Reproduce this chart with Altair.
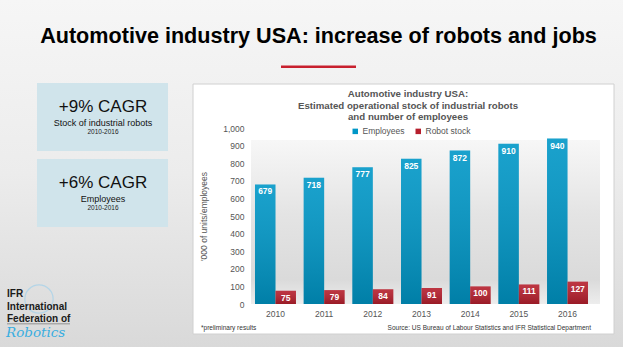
import altair as alt
import pandas as pd

years = ["2010", "2011", "2012", "2013", "2014", "2015", "2016"]
employees = [679, 718, 777, 825, 872, 910, 940]
robots = [75, 79, 84, 91, 100, 111, 127]
series = ["Employees", "Robot stock"]
y_ticks = list(range(0, 1001, 100))

FONT = "Liberation Sans"
OX, OY = 251, 128   # plot origin on the page
W, H = 341, 176

rows = []
for yr, e, r in zip(years, employees, robots):
    rows.append({"year": yr, "series": "Employees", "value": e})
    rows.append({"year": yr, "series": "Robot stock", "value": r})
df = pd.DataFrame(rows)

one = pd.DataFrame({"k": [0]})


def rect(x1, y1, x2, y2, **kw):
    return alt.Chart(one).mark_rect(**kw).encode(
        x=alt.value(x1 - OX), x2=alt.value(x2 - OX),
        y=alt.value(y1 - OY), y2=alt.value(y2 - OY))


def txt(s, x, y, size, weight="normal", color="#000", align="center", **kw):
    return alt.Chart(one).mark_text(
        text=s, font=FONT, fontSize=size, fontWeight=weight, color=color,
        align=align, baseline="middle", **kw).encode(
        x=alt.value(x - OX), y=alt.value(y - OY))


def grad(stops, vertical=True):
    return alt.Gradient(
        gradient="linear",
        stops=[alt.GradientStop(offset=o, color=c) for o, c in stops],
        x1=0, y1=0, x2=0 if vertical else 1, y2=1 if vertical else 0)


layers = []
# slide background
layers.append(rect(0, 0, 623, 347, color=grad([(0, "#f6f6f6"), (0.5, "#ececec"), (1, "#d9d9d9")])))
# title
layers.append(txt("Automotive industry USA: increase of robots and jobs", 318.5, 37, 21.6, "bold", "#000"))
layers.append(rect(281, 65.5, 356, 68, color="#c8202e"))
# left boxes
layers.append(rect(37, 83, 168, 151, color="#d0e4eb"))
layers.append(rect(37, 159, 168, 227, color="#d0e4eb"))
layers.append(txt("+9% CAGR", 103, 107, 17, color="#111"))
layers.append(txt("Stock of industrial robots", 103, 123, 9, color="#111"))
layers.append(txt("2010-2016", 103, 131.5, 6.5, color="#222"))
layers.append(txt("+6% CAGR", 103, 183, 17, color="#111"))
layers.append(txt("Employees", 103, 199, 9, color="#111"))
layers.append(txt("2010-2016", 103, 207.5, 6.5, color="#222"))
# IFR logo
layers.append(alt.Chart(one).mark_point(shape="circle", size=800, filled=False, color="#a9d3ea",
                                        strokeWidth=1.2, opacity=0.8).encode(
    x=alt.value(39 - OX), y=alt.value(299 - OY)))
layers.append(txt("IFR", 7, 293.5, 10, "bold", "#1a1a1a", align="left"))
layers.append(txt("International", 7, 307, 10, "bold", "#1a1a1a", align="left"))
layers.append(txt("Federation of", 7, 319, 10, "bold", "#1a1a1a", align="left"))
layers.append(rect(7, 323.5, 70, 324.3, color="#777"))
layers.append(alt.Chart(one).mark_text(text="Robotics", font="DejaVu Serif", fontSize=13.5,
                                       fontStyle="italic", color="#3aaee0", align="left",
                                       baseline="middle").encode(
    x=alt.value(6 - OX), y=alt.value(333 - OY)))
# chart panel
layers.append(rect(193, 84, 614, 334, color="#ffffff", stroke="#d0d0d0", strokeWidth=1))
layers.append(rect(OX, 140, 600, 304, color=grad([(0, "#f7f7f7"), (0.45, "#e4e4e4"),
                                                  (0.85, "#dadada"), (1, "#ededed")])))
layers.append(txt("Automotive industry USA:", 408, 94, 9.7, "bold", "#555"))
layers.append(txt("Estimated operational stock of industrial robots", 408, 105.5, 9.7, "bold", "#555"))
layers.append(txt("and number of employees", 408, 117, 9.7, "bold", "#555"))
layers.append(txt("*preliminary results", 201, 328, 6.5, color="#333", align="left"))
layers.append(txt("Source: US Bureau of Labour Statistics and  IFR Statistical Department", 591, 328,
                  6.5, color="#333", align="right"))

# bars
x_enc = alt.X("year:N", sort=years,
              scale=alt.Scale(paddingInner=0.158, paddingOuter=0.082),
              axis=alt.Axis(title=None, labelAngle=0, domain=False, ticks=False,
                            labelPadding=5, labelFont=FONT, labelFontSize=8.5,
                            labelColor="#555", zindex=2))
xo_enc = alt.XOffset("series:N", sort=series, scale=alt.Scale(paddingInner=0, paddingOuter=0))
y_enc = alt.Y("value:Q", scale=alt.Scale(domain=[0, 1000], nice=False),
              axis=alt.Axis(values=y_ticks, format=",.0f", title="'000 of units/employees",
                            grid=False, domain=False, ticks=False, labelPadding=7,
                            labelFont=FONT, labelFontSize=8.5, labelColor="#555",
                            titleFont=FONT, titleFontSize=8.5, titleFontWeight="normal",
                            titleColor="#555", titlePadding=14, zindex=2))

bars = alt.Chart(df).mark_bar().encode(
    x=x_enc, xOffset=xo_enc, y=y_enc,
    color=alt.Color("series:N", sort=series,
                    scale=alt.Scale(domain=series, range=["#0097c7", "#b61f2d"]),
                    legend=alt.Legend(title=None, orient="none", legendX=100, legendY=-1,
                                      direction="horizontal", symbolType="square",
                                      symbolSize=30, symbolStrokeWidth=0,
                                      labelFont=FONT, labelFontSize=8.5, labelColor="#555",
                                      columnPadding=9, labelOffset=3, padding=0, zindex=2)))
shade = alt.Chart(df).mark_bar(color=grad([(0, "rgba(255,255,255,0.10)"),
                                            (1, "rgba(0,0,0,0.16)")])).encode(
    x=x_enc, xOffset=xo_enc, y=y_enc)
labels = alt.Chart(df).mark_text(font=FONT, fontSize=8.5, fontWeight="bold", color="#ffffff",
                                 baseline="top", dy=3).encode(
    x=x_enc, xOffset=xo_enc, y=y_enc, text="value:Q")

layers += [bars, shade, labels]

chart = alt.layer(*layers).properties(
    width=W, height=H,
    padding={"left": OX, "top": OY, "right": 623 - OX - W, "bottom": 347 - OY - H},
    autosize=alt.AutoSizeParams(type="none"),
).configure_view(stroke=None)

chart.save("out.html", embed_options={"renderer": "svg", "actions": False})
